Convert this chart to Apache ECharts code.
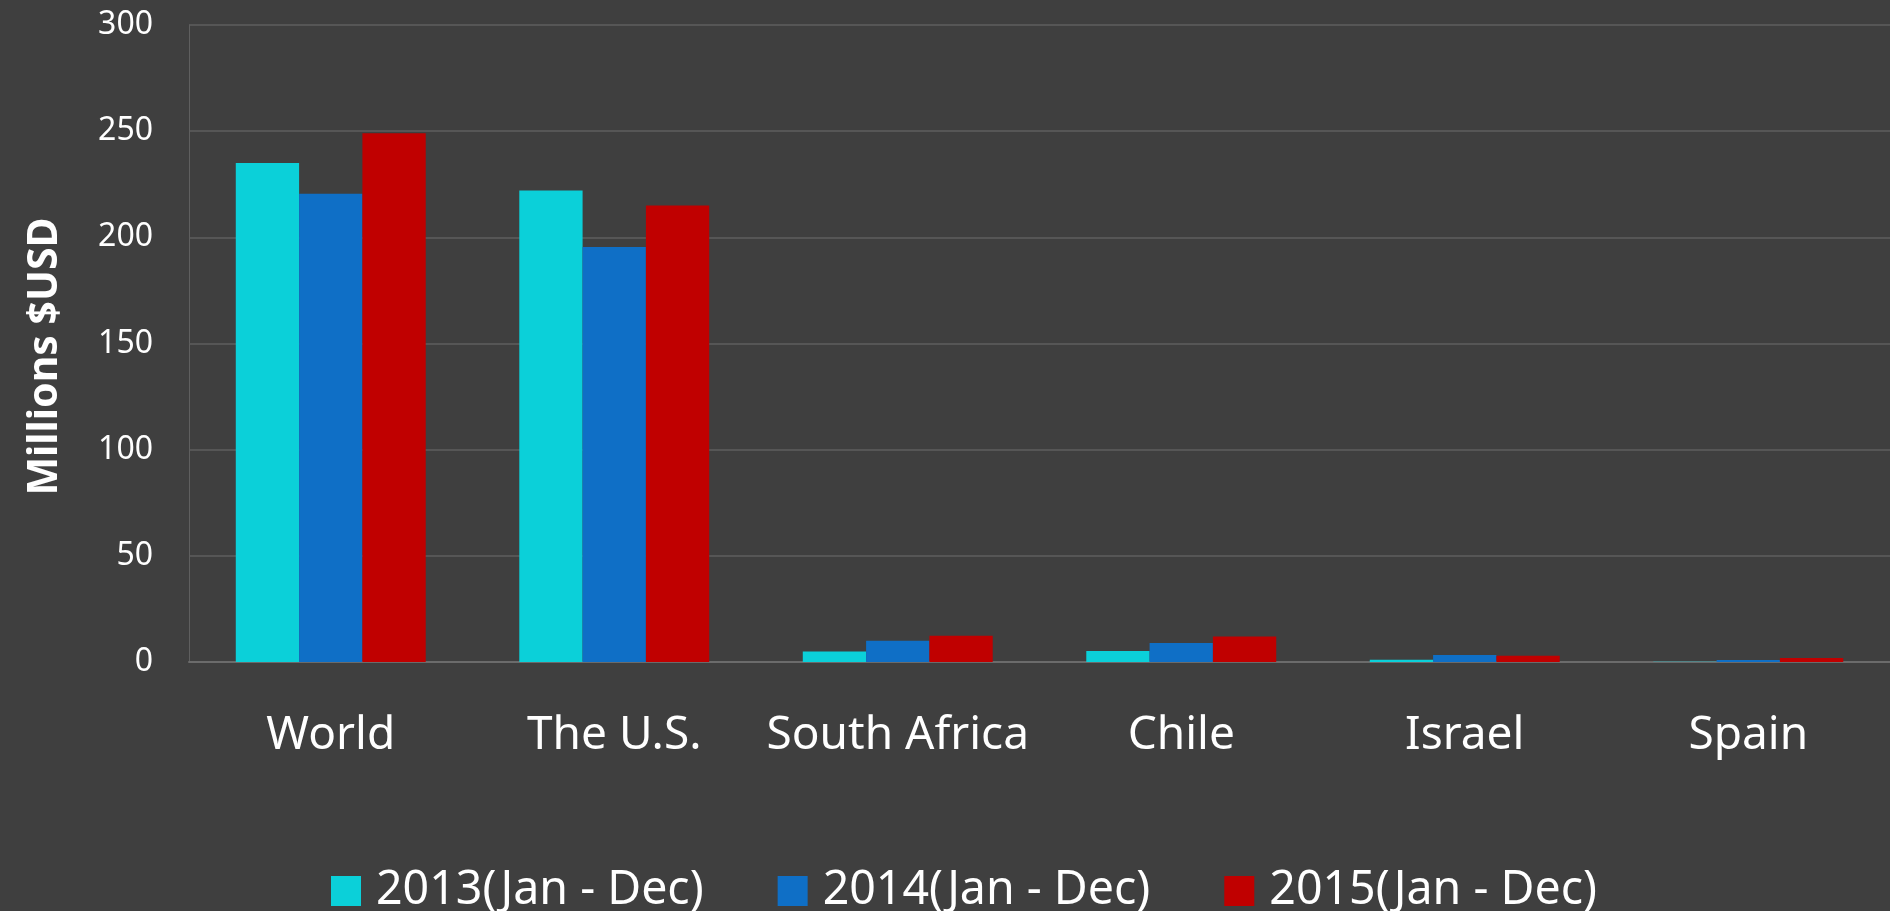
<!DOCTYPE html>
<html>
<head>
<meta charset="utf-8">
<style>
  html, body { margin: 0; padding: 0; background: #3f3f3f; }
  #chart { width: 1890px; height: 911px; }
</style>
<script src="https://cdn.jsdelivr.net/npm/echarts@6/dist/echarts.min.js"></script>
</head>
<body>
<div id="chart"></div>
<script>
// data
const categories = ["World", "The U.S.", "South Africa", "Chile", "Israel", "Spain"];
const seriesNames = ["2013(Jan - Dec)", "2014(Jan - Dec)", "2015(Jan - Dec)"];
const values2013 = [235, 222, 5, 5.2, 1.1, 0.1];
const values2014 = [220.5, 195.5, 10, 9, 3.3, 0.9];
const values2015 = [249, 215, 12.4, 12, 3, 1.9];
const yTicks = { min: 0, max: 300, step: 50 };

const colors = ["#0bd0d9", "#0f6fc6", "#c00000"];
const font = "Noto Sans";

let chart = echarts.init(document.getElementById("chart"));
chart.setOption({
  backgroundColor: "#3f3f3f",
  color: colors,
  textStyle: { fontFamily: font, color: "#fff" },
  grid: {
    left: 189,
    right: 0,
    top: 25,
    bottom: 249
  },
  legend: {
    top: 858,
    left: 326,
    itemWidth: 30,
    itemHeight: 30,
    itemGap: 74,
    icon: "rect",
    textStyle: {
      fontFamily: font,
      fontSize: 46.5,
      color: "#fff",
      lineHeight: 56,
      padding: [0, 0, 0, 10]
    },
    data: seriesNames
  },
  xAxis: [
    {
      type: "category",
      data: categories,
      axisLine: { show: true, lineStyle: { color: "#6b6b6b", width: 2 } },
      axisTick: { show: false },
      axisLabel: {
        interval: 0,
        color: "#fff",
        fontFamily: font,
        fontSize: 46,
        margin: 51
      }
    }
  ],
  yAxis: [
    {
      type: "value",
      min: yTicks.min,
      max: yTicks.max,
      interval: yTicks.step,
      name: "Millions $USD",
      nameLocation: "middle",
      nameGap: 123,
      nameTextStyle: {
        color: "#fff",
        fontFamily: font,
        fontSize: 41,
        fontWeight: "bold",
        padding: [0, 26, 0, 0]
      },
      axisLine: { show: true, lineStyle: { color: "#5f5f5f", width: 1 } },
      axisTick: { show: false },
      splitLine: { show: true, lineStyle: { color: "#5f5f5f", width: 1.5 } },
      axisLabel: {
        color: "#fff",
        fontFamily: font,
        fontSize: 32,
        margin: 36
      }
    }
  ],
  series: [
    { name: seriesNames[0], type: "bar", data: values2013, barGap: "0%", barCategoryGap: "33%" },
    { name: seriesNames[1], type: "bar", data: values2014, barGap: "0%", barCategoryGap: "33%" },
    { name: seriesNames[2], type: "bar", data: values2015, barGap: "0%", barCategoryGap: "33%" }
  ]
});
</script>
</body>
</html>
